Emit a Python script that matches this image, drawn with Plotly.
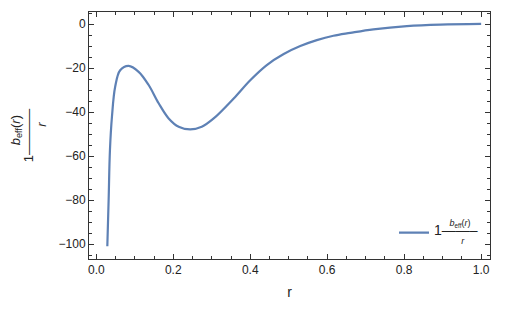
import plotly.graph_objects as go

r_vals = [0.0286, 0.032, 0.0355, 0.0407, 0.049, 0.062, 0.084, 0.11, 0.136, 0.162,
          0.188, 0.214, 0.244, 0.274, 0.305, 0.357, 0.4, 0.443, 0.487, 0.53,
          0.573, 0.616, 0.66, 0.72, 0.807, 0.894, 1.0]
f_vals = [-101, -80, -57, -42, -28.5, -21, -19, -21.7, -27.7, -36,
          -42.9, -46.7, -47.9, -46.7, -42.9, -33.8, -25.5, -18.6, -13.6, -10,
          -7.3, -5.3, -4.0, -2.4, -0.9, -0.2, 0.1]
x_ticks = [0.0, 0.2, 0.4, 0.6, 0.8, 1.0]
x_labels = ["0.0", "0.2", "0.4", "0.6", "0.8", "1.0"]
y_ticks = [0, -20, -40, -60, -80, -100]
y_labels = ["0", "−20", "−40", "−60", "−80", "−100"]

W, H = 509, 312
ML, MR, MT, MB = 89, 19, 12, 53
PW, PH = W - ML - MR, H - MT - MB

def px(x):
    return (x - ML) / PW

def py(y):
    return (H - MB - y) / PH

color = "#5E81B5"
ink = "#222222"

def sp(size, txt):
    return "<span style='font-size:%dpx'>%s</span>" % (size, txt)

nb = "&nbsp;"
legend_name = (sp(9, sp(14, nb * 4) + "<i>b</i><sub>eff</sub>(<i>r</i>)") + "<br>"
               + sp(14, "1——–") + "<br>"
               + sp(9, sp(14, nb * 7) + "<i>r</i>"))
ytitle = (sp(13, sp(13, nb * 3) + "<i>b</i><sub>eff</sub>(<i>r</i>)") + "<br>"
          + sp(13, "1———–") + "<br>"
          + sp(13, nb * 6 + "<i>r</i>"))

fig = go.Figure()
fig.add_trace(go.Scatter(x=r_vals, y=f_vals, mode="lines",
                         line=dict(color=color, width=2.2, shape="spline", smoothing=1.0),
                         name=legend_name, showlegend=True))

axis_common = dict(showline=True, linecolor="#333333", linewidth=1, mirror="ticks", ticks="inside",
                   tickcolor="#333333", ticklen=5, tickwidth=1, showgrid=False, zeroline=False,
                   tickfont=dict(family="Liberation Sans", size=12, color=ink))
fig.update_xaxes(range=[-0.019, 1.023], tickvals=x_ticks, ticktext=x_labels,
                 minor=dict(dtick=0.05, ticks="inside", ticklen=3, tickcolor="#333333", showgrid=False),
                 title=dict(text="r", font=dict(family="Liberation Sans", size=14, color=ink), standoff=10),
                 **axis_common)
fig.update_yaxes(range=[-106.8, 5.5], tickvals=y_ticks, ticktext=y_labels,
                 minor=dict(dtick=5, ticks="inside", ticklen=3, tickcolor="#333333", showgrid=False),
                 title=dict(text=ytitle, font=dict(family="Liberation Sans", size=10, color=ink), standoff=10),
                 **axis_common)

fig.update_layout(width=W, height=H, margin=dict(l=ML, r=MR, t=MT, b=MB), plot_bgcolor="white",
                  paper_bgcolor="white",
                  legend=dict(x=px(394), y=py(233), xanchor="left", yanchor="middle",
                              bgcolor="rgba(0,0,0,0)", font=dict(family="Liberation Sans", size=7, color=ink),
                              itemwidth=30, tracegroupgap=0))
fig.write_html("out.html")
